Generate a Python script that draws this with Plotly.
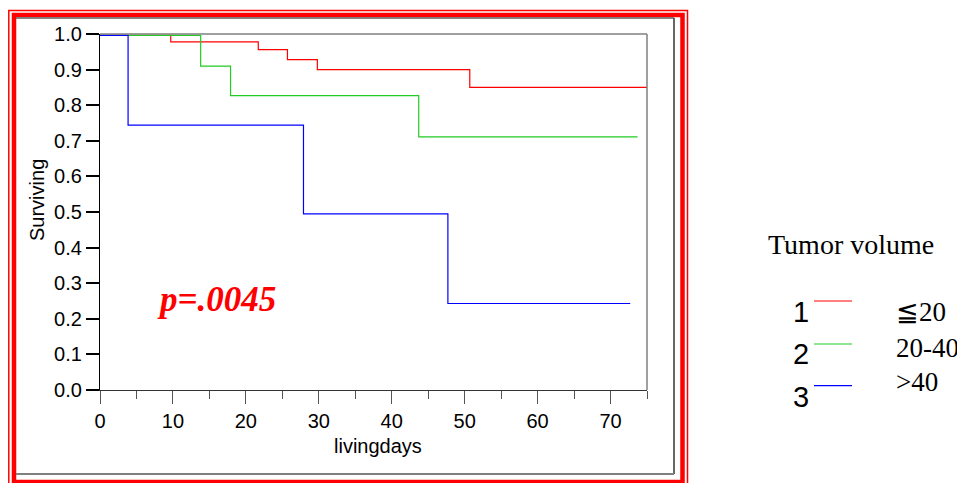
import plotly.graph_objects as go

# ---- data ----
days_g1 = [0, 9.7, 21.7, 25.7, 29.8, 50.7, 75]
surv_g1 = [0.996, 0.978, 0.956, 0.928, 0.900, 0.850, 0.850]

days_g2 = [0, 13.8, 17.9, 43.7, 73.7]
surv_g2 = [0.996, 0.910, 0.827, 0.711, 0.711]

days_g3 = [0, 3.85, 27.9, 47.7, 72.7]
surv_g3 = [0.996, 0.744, 0.495, 0.243, 0.243]

group_ids = ["1", "2", "3"]
group_labels = ["≦20", "20-40", ">40"]
group_colors = ["#ff0000", "#22cc22", "#0000ff"]
legend_title = "Tumor volume"
p_text = "p=.0045"
x_title = "livingdays"
y_title = "Surviving"
x_ticks = [0, 10, 20, 30, 40, 50, 60, 70]
y_ticks = [0.0, 0.1, 0.2, 0.3, 0.4, 0.5, 0.6, 0.7, 0.8, 0.9, 1.0]

# page body has an 8px margin: lay out in screen pixels, shifted back by O
O = 8
W, H = 965, 483
L, T = 100 - O, 34 - O
PW, PH = 547, 356
R, B = W - L - PW, H - T - PH


def px(x):
    return (x - O - L) / PW


def py(y):
    return (T + PH - (y - O)) / PH


fig = go.Figure()
for xs, ys, c, name in zip([days_g1, days_g2, days_g3],
                           [surv_g1, surv_g2, surv_g3],
                           group_colors, group_ids):
    fig.add_trace(go.Scatter(x=xs, y=ys, mode="lines", line_shape="hv",
                             line=dict(color=c, width=1.2), name=name,
                             showlegend=False, hoverinfo="skip"))

axis_font = dict(family="Liberation Sans, Arial", size=20, color="black")
fig.update_layout(
    width=W, height=H,
    margin=dict(l=L, r=R, t=T, b=B, pad=0),
    paper_bgcolor="white", plot_bgcolor="white",
    xaxis=dict(range=[0, 75], tickvals=x_ticks, ticks="outside", ticklen=13,
               tickcolor="#555555", tickwidth=1.2, showline=True,
               linecolor="#333333", linewidth=1.2, showgrid=False,
               zeroline=False, tickfont=axis_font,
               minor=dict(dtick=5, ticks="outside", ticklen=8,
                          tickcolor="#555555", tickwidth=1.2)),
    yaxis=dict(range=[0, 1], tickvals=y_ticks, tickformat=".1f",
               ticks="outside", ticklen=13, tickcolor="black", tickwidth=1.5,
               showline=True, linecolor="black", linewidth=1.2,
               showgrid=False, zeroline=False, tickfont=axis_font),
)

shapes = []
# top and right plot borders (gray)
shapes.append(dict(type="line", xref="x domain", yref="y domain", x0=0, x1=1,
                   y0=1, y1=1, line=dict(color="#808080", width=1.5)))
shapes.append(dict(type="line", xref="x domain", yref="y domain", x0=1, x1=1,
                   y0=0, y1=1, line=dict(color="#808080", width=1.5)))
# outer frame
shapes.append(dict(type="rect", xref="paper", yref="paper", x0=px(8.8), x1=px(687.5),
                   y0=py(490), y1=py(10.5), line=dict(color="#ff0000", width=1.5)))
shapes.append(dict(type="rect", xref="paper", yref="paper", x0=px(14), x1=px(682.5),
                   y0=py(482), y1=py(15), line=dict(color="#ff0000", width=4.5)))
shapes.append(dict(type="line", xref="paper", yref="paper", x0=px(16), x1=px(674),
                   y0=py(18), y1=py(18), line=dict(color="#606060", width=1.5)))
shapes.append(dict(type="line", xref="paper", yref="paper", x0=px(674), x1=px(674),
                   y0=py(18), y1=py(474), line=dict(color="#333333", width=1.5)))
shapes.append(dict(type="line", xref="paper", yref="paper", x0=px(16), x1=px(674),
                   y0=py(474), y1=py(474), line=dict(color="#808080", width=2)))
# legend line samples
for c, yy in zip(group_colors, [301, 344, 385.7]):
    shapes.append(dict(type="line", xref="paper", yref="paper", x0=px(814), x1=px(852),
                       y0=py(yy), y1=py(yy), line=dict(color=c, width=1.2)))
fig.update_layout(shapes=shapes)

ann = []
ann.append(dict(text=x_title, x=px(378), y=py(446), xref="paper", yref="paper",
                showarrow=False, xanchor="center", yanchor="middle",
                font=dict(family="Liberation Sans, Arial", size=20, color="black")))
ann.append(dict(text=y_title, x=px(37), y=py(200), xref="paper", yref="paper",
                showarrow=False, textangle=-90, xanchor="center", yanchor="middle",
                font=dict(family="Liberation Sans, Arial", size=20, color="black")))
ann.append(dict(text="<b><i>" + p_text + "</i></b>", x=px(216), y=py(299),
                xref="paper", yref="paper", showarrow=False,
                xanchor="center", yanchor="middle",
                font=dict(family="Liberation Serif, Times New Roman", size=35,
                          color="#ff0000")))
ann.append(dict(text=legend_title, x=px(850.5), y=py(244), xref="paper", yref="paper",
                showarrow=False, xanchor="center", yanchor="middle",
                font=dict(family="Liberation Serif, Times New Roman", size=28,
                          color="black")))
for gid, lab, yn, yl in zip(group_ids, group_labels, [311.5, 353.8, 396.5],
                            [312.2, 347.8, 382.2]):
    ann.append(dict(text=gid, x=px(800.5), y=py(yn), xref="paper", yref="paper",
                    showarrow=False, xanchor="center", yanchor="middle",
                    font=dict(family="Liberation Sans, Arial", size=29, color="black")))
    ann.append(dict(text=lab, x=px(894), y=py(yl), xref="paper", yref="paper",
                    showarrow=False, xanchor="left", yanchor="middle",
                    font=dict(family="Liberation Serif, Times New Roman", size=27,
                              color="black")))
fig.update_layout(annotations=ann)

fig.write_html("out.html")
